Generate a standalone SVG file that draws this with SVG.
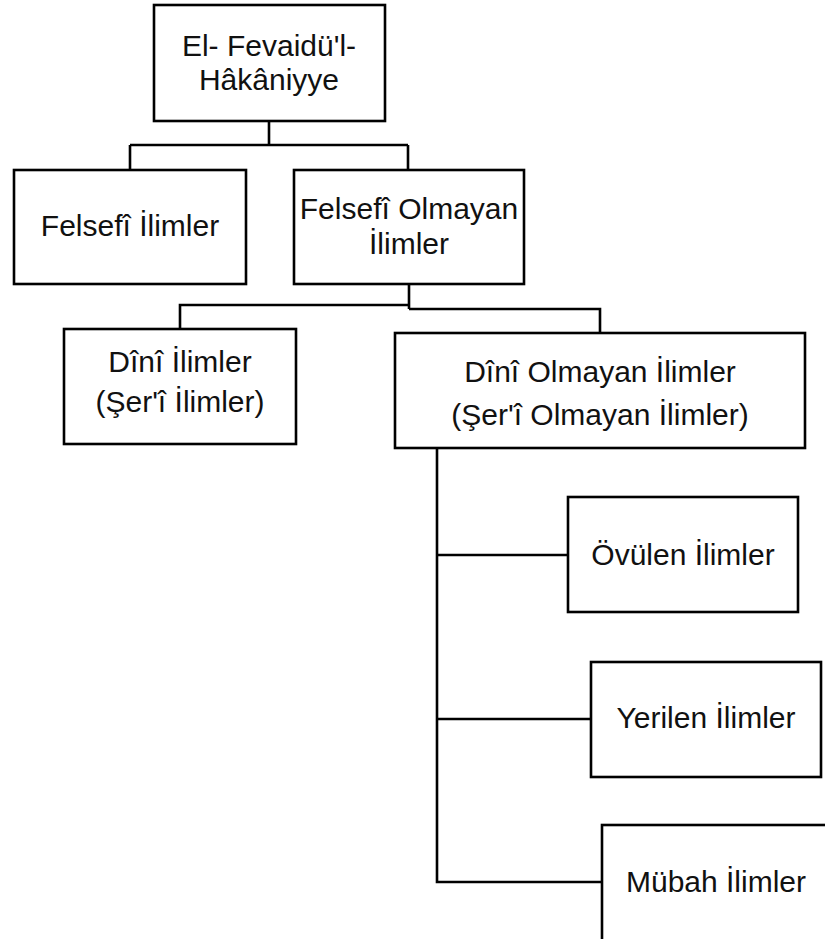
<svg xmlns="http://www.w3.org/2000/svg" width="825" height="939" viewBox="0 0 825 939">
<style>
.box{fill:#fff;stroke:#000;stroke-width:2.6}
.ln{fill:none;stroke:#000;stroke-width:2.6}
text{font-family:"Liberation Sans",Arial,sans-serif;font-size:30px;fill:#111;text-anchor:middle}
</style>
<rect width="825" height="939" fill="#fff"/>
<g id="connectors">
<path class="ln" d="M269,121 V145 M130,145 H408 M130,145 V170 M408,145 V170"/>
<path class="ln" d="M409,284 V309 M409,305 H180 V329 M409,309 H600 V333"/>
<path class="ln" d="M437,448 V882 H602 M437,555 H568 M437,719 H591"/>
</g>
<g id="n1"><rect class="box" x="154" y="5" width="231" height="116"/><text x="269" y="56">El- Fevaidü'l-</text><text x="269" y="90">Hâkâniyye</text></g>
<g id="n2"><rect class="box" x="14" y="170" width="232" height="114"/><text x="130" y="236">Felsefî İlimler</text></g>
<g id="n3"><rect class="box" x="294" y="170" width="230" height="114"/><text x="409" y="219">Felsefî Olmayan</text><text x="409" y="254">İlimler</text></g>
<g id="n4"><rect class="box" x="64" y="329" width="232" height="115"/><text x="180" y="372">Dînî İlimler</text><text x="180" y="412">(Şer'î İlimler)</text></g>
<g id="n5"><rect class="box" x="395" y="333" width="410" height="115"/><text x="600" y="382">Dînî Olmayan İlimler</text><text x="600" y="425">(Şer'î Olmayan İlimler)</text></g>
<g id="n6"><rect class="box" x="568" y="497" width="230" height="115"/><text x="683" y="565">Övülen İlimler</text></g>
<g id="n7"><rect class="box" x="591" y="662" width="230" height="115"/><text x="706" y="728">Yerilen İlimler</text></g>
<g id="n8"><rect class="box" x="602" y="825" width="240" height="130"/><text x="716" y="892">Mübah İlimler</text></g>
</svg>
